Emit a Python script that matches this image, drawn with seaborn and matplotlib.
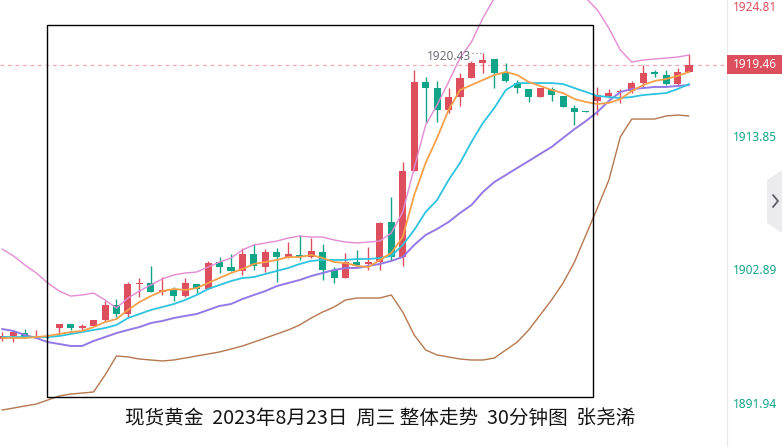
import numpy as np
import pandas as pd
import matplotlib
matplotlib.use("Agg")
import matplotlib.pyplot as plt
import seaborn as sns
from matplotlib.patches import Rectangle, Polygon
from matplotlib.lines import Line2D

# ---------------- data (30-minute candles, gold spot) ----------------
opens = [1897.00, 1897.25, 1897.49, 1897.12, 1897.21, 1897.90, 1898.23, 1897.94, 1898.07, 1898.56,
         1899.79, 1899.05, 1901.51, 1901.59, 1900.85, 1901.02, 1900.53, 1901.51, 1901.10, 1903.31,
         1902.90, 1902.58, 1903.97, 1902.90, 1904.13, 1903.72, 1903.89, 1903.72, 1904.13, 1902.66,
         1902.00, 1903.31, 1903.15, 1903.31, 1906.59, 1903.72, 1910.77, 1918.07, 1917.57, 1915.77,
         1916.84, 1918.39, 1919.62, 1919.95, 1918.80, 1917.98, 1917.49, 1916.84, 1917.49, 1916.92,
         1915.94, 1915.65, 1916.51, 1916.92, 1917.21, 1917.33, 1917.98, 1918.85, 1918.64, 1917.90,
         1918.89]
highs = [1897.57, 1897.74, 1897.82, 1897.74, 1897.41, 1898.23, 1898.23, 1898.23, 1898.56, 1900.12,
         1900.28, 1901.67, 1902.00, 1902.99, 1902.08, 1901.26, 1902.00, 1901.51, 1903.40, 1903.72,
         1903.97, 1904.46, 1904.79, 1904.38, 1904.46, 1904.95, 1905.53, 1905.28, 1904.79, 1902.90,
         1904.05, 1904.30, 1904.54, 1906.59, 1908.64, 1911.51, 1919.05, 1918.48, 1918.15, 1917.57,
         1918.80, 1919.79, 1920.43, 1919.95, 1919.62, 1918.23, 1917.49, 1917.57, 1917.66, 1916.92,
         1916.18, 1915.65, 1917.66, 1917.49, 1917.49, 1918.15, 1919.46, 1919.05, 1919.05, 1919.21,
         1920.36]
lows = [1896.84, 1896.75, 1897.08, 1897.08, 1897.08, 1897.49, 1897.74, 1897.74, 1898.07, 1898.48,
        1898.80, 1898.80, 1900.44, 1900.85, 1900.61, 1900.12, 1900.44, 1900.77, 1901.10, 1902.41,
        1902.58, 1902.25, 1902.66, 1902.49, 1901.67, 1903.64, 1903.48, 1903.64, 1901.84, 1901.59,
        1902.00, 1902.90, 1902.66, 1902.66, 1903.48, 1902.99, 1910.77, 1914.71, 1914.79, 1915.53,
        1916.10, 1918.39, 1918.80, 1917.57, 1918.07, 1917.16, 1916.43, 1916.84, 1916.51, 1916.02,
        1914.54, 1915.61, 1915.36, 1916.75, 1916.35, 1917.16, 1917.66, 1918.48, 1917.82, 1917.74,
        1918.89]
closes = [1897.25, 1897.57, 1897.16, 1897.21, 1897.18, 1898.23, 1897.90, 1898.03, 1898.56, 1899.79,
          1899.05, 1901.51, 1901.59, 1900.85, 1901.02, 1900.53, 1901.59, 1901.10, 1903.23, 1902.90,
          1902.58, 1903.97, 1902.99, 1904.13, 1903.72, 1903.97, 1903.72, 1904.21, 1902.66, 1902.00,
          1903.31, 1903.07, 1903.31, 1906.51, 1903.72, 1910.77, 1918.07, 1917.57, 1915.77, 1916.84,
          1918.39, 1919.62, 1919.87, 1918.80, 1918.15, 1917.57, 1916.84, 1917.57, 1917.00, 1916.02,
          1915.61, 1915.61, 1917.00, 1917.16, 1917.29, 1917.98, 1918.80, 1918.76, 1917.90, 1918.89,
          1919.46]

ma5 = [1897.08, 1897.08, 1897.08, 1897.16, 1897.25, 1897.41, 1897.57, 1897.66, 1897.98, 1898.39,
       1898.64, 1899.38, 1900.03, 1900.52, 1900.93, 1901.10, 1901.02, 1901.18, 1901.59, 1902.00,
       1902.41, 1902.74, 1903.15, 1903.31, 1903.48, 1903.72, 1903.72, 1903.89, 1903.64, 1903.31,
       1903.23, 1902.99, 1902.90, 1903.48, 1904.05, 1905.36, 1908.80, 1911.43, 1913.48, 1915.77,
       1917.41, 1917.82, 1918.23, 1918.64, 1918.89, 1918.64, 1918.07, 1917.74, 1917.41, 1917.16,
       1916.67, 1916.43, 1916.26, 1916.35, 1916.67, 1917.33, 1917.82, 1918.15, 1918.31, 1918.56,
       1918.89]
ma10 = [1897.16, 1897.16, 1897.16, 1897.16, 1897.16, 1897.25, 1897.41, 1897.57, 1897.74, 1897.90,
        1898.15, 1898.72, 1899.05, 1899.38, 1899.62, 1899.87, 1900.20, 1900.61, 1901.10, 1901.43,
        1901.75, 1902.00, 1902.08, 1902.33, 1902.58, 1902.82, 1903.15, 1903.40, 1903.48, 1903.48,
        1903.48, 1903.56, 1903.56, 1903.64, 1903.81, 1904.71, 1905.94, 1907.41, 1908.39, 1910.03,
        1911.43, 1913.15, 1914.71, 1915.94, 1917.41, 1917.98, 1917.98, 1917.98, 1917.98, 1917.90,
        1917.57, 1917.25, 1916.92, 1916.84, 1916.75, 1916.84, 1917.00, 1917.08, 1917.16, 1917.49,
        1917.90]
ma20 = [1897.82, 1897.66, 1897.33, 1897.08, 1896.75, 1896.59, 1896.43, 1896.43, 1896.84, 1897.16,
        1897.49, 1897.74, 1897.98, 1898.31, 1898.48, 1898.72, 1898.89, 1899.05, 1899.38, 1899.71,
        1899.87, 1900.28, 1900.61, 1900.93, 1901.34, 1901.59, 1901.84, 1902.16, 1902.41, 1902.66,
        1902.82, 1902.82, 1902.99, 1903.15, 1903.40, 1903.72, 1904.71, 1905.53, 1906.02, 1906.59,
        1907.33, 1907.98, 1909.05, 1909.87, 1910.44, 1911.02, 1911.59, 1912.17, 1912.74, 1913.48,
        1914.21, 1914.87, 1915.61, 1916.51, 1917.25, 1917.49, 1917.57, 1917.66, 1917.66, 1917.74,
        1917.82]
boll_upper = [1904.38, 1903.81, 1903.07, 1902.41, 1901.59, 1900.93, 1900.52, 1900.61, 1900.77, 1900.20,
              1899.54, 1900.36, 1900.93, 1901.43, 1901.92, 1902.25, 1902.41, 1902.49, 1902.90, 1903.31,
              1903.64, 1904.30, 1904.71, 1904.87, 1905.03, 1905.28, 1905.44, 1905.36, 1905.36, 1905.12,
              1904.95, 1904.87, 1904.95, 1905.03, 1905.69, 1907.41, 1911.02, 1914.54, 1916.18, 1918.07,
              1920.03, 1921.35, 1923.31, 1924.95, 1925.77, 1926.26, 1926.59, 1926.59, 1926.43, 1926.10,
              1925.61, 1924.95, 1923.97, 1922.49, 1920.69, 1919.70, 1919.87, 1919.95, 1920.03, 1920.11,
              1920.28]
boll_lower = [1891.18, 1891.34, 1891.51, 1891.67, 1892.00, 1892.33, 1892.49, 1892.57, 1892.66, 1894.05,
              1895.61, 1895.53, 1895.36, 1895.28, 1895.20, 1895.28, 1895.44, 1895.61, 1895.77, 1895.94,
              1896.18, 1896.43, 1896.75, 1897.08, 1897.41, 1897.74, 1898.15, 1898.72, 1899.21, 1899.62,
              1900.20, 1900.36, 1900.36, 1900.36, 1900.61, 1899.21, 1897.33, 1896.10, 1895.69, 1895.53,
              1895.36, 1895.28, 1895.28, 1895.44, 1896.10, 1896.75, 1897.74, 1898.97, 1900.20, 1901.59,
              1903.31, 1905.53, 1907.74, 1910.03, 1913.56, 1915.03, 1915.03, 1915.03, 1915.28, 1915.36,
              1915.28]

axis_labels = ["1924.81", "1913.85", "1902.89", "1891.94"]
axis_values = [1924.81, 1913.85, 1902.89, 1891.94]
last_price = 1919.46
peak_high = 1920.43
peak_index = 42
title_text = "现货黄金  2023年8月23日  周三 整体走势  30分钟图  张尧浠"

# ---------------- styling ----------------
UP = "#dd4f5c"
DOWN = "#10a489"
C_MA5 = "#f7a04b"
C_MA10 = "#2ec3df"
C_MA20 = "#9479e6"
C_UP_BAND = "#e38bd3"
C_DN_BAND = "#b5784f"

sns.set_theme(style="white")
plt.rcParams['font.family'] = ['Noto Sans CJK SC', 'DejaVu Sans']

W, H = 782, 447
fig = plt.figure(figsize=(W / 100, H / 100), dpi=100, facecolor="white")
plot_w = 727
ax = fig.add_axes([0, 0, plot_w / W, 1])
ax.set_facecolor("white")

px_per_bar = 11.45
first_px = 2.0
ax.set_xlim(-first_px / px_per_bar, (plot_w - first_px) / px_per_bar)
px_per_unit = 12.2
y_top = last_price + 65 / px_per_unit
ax.set_ylim(y_top - H / px_per_unit, y_top)

df = pd.DataFrame({"idx": np.arange(len(opens)), "open": opens, "high": highs,
                   "low": lows, "close": closes, "ma5": ma5, "ma10": ma10, "ma20": ma20,
                   "up": boll_upper, "dn": boll_lower})
colors = [UP if c >= o else DOWN for o, c in zip(df["open"], df["close"])]

# candles
ax.vlines(df["idx"], df["low"], df["high"], colors=colors, lw=1.0, zorder=2)
bottoms = np.minimum(df["open"], df["close"])
heights = np.maximum(np.abs(df["close"] - df["open"]), 0.1)
ax.bar(df["idx"], heights, bottom=bottoms, width=0.62, color=colors, linewidth=0, zorder=3)

# indicator lines
for col, colr, lw in [("up", C_UP_BAND, 1.0), ("dn", C_DN_BAND, 1.0),
                      ("ma20", C_MA20, 1.4), ("ma10", C_MA10, 1.3), ("ma5", C_MA5, 1.3)]:
    sns.lineplot(data=df, x="idx", y=col, ax=ax, color=colr, lw=lw, sort=False,
                 estimator=None, zorder=4, legend=False)

# last price dashed line
ax.axhline(last_price, color="#f2a9b2", lw=0.9, ls=(0, (3, 3)), zorder=1)

# peak annotation
ax.annotate("1920.43", xy=(peak_index, peak_high), xytext=(-12 * 0.72, -3 * 0.72),
            textcoords="offset points", ha="right", va="center", fontsize=8.5,
            color="#6f6f7c", family=["Noto Sans", "DejaVu Sans"], zorder=5)
ax.hlines(peak_high, peak_index - 0.95, peak_index, colors="#8a8a95", lw=0.9,
          linestyles=(0, (1, 2)), zorder=5)

ax.set_xticks([])
ax.set_yticks([])
ax.set_xlabel("")
ax.set_ylabel("")
for s in ["top", "left", "bottom"]:
    ax.spines[s].set_visible(False)
ax.spines["right"].set_color("#e9e9ec")
ax.spines["right"].set_linewidth(0.8)

# right axis labels
label_offsets_px = [-8, -4, -3, -4]
for lab, val, off in zip(axis_labels, axis_values, label_offsets_px):
    ax.annotate(lab, xy=(1, val), xycoords=("axes fraction", "data"),
                xytext=(6 * 0.72, off * 0.72), textcoords="offset points",
                ha="left", va="center", fontsize=8.5, annotation_clip=False,
                color=UP if val > last_price else DOWN, family=["Noto Sans", "DejaVu Sans"])

# last price tag
fig.add_artist(Rectangle((plot_w / W, 1 - 74 / H), (W - plot_w) / W, 19 / H,
                         transform=fig.transFigure, facecolor=UP, edgecolor="none"))
fig.text((plot_w + 28) / W, 1 - 65 / H, f"{last_price:.2f}", ha="center", va="center",
         fontsize=8.5, color="white", family=["Noto Sans", "DejaVu Sans"])

# framing rectangle
fig.add_artist(Rectangle((47 / W, 1 - 397 / H), (593 - 47) / W, (397 - 25) / H,
                         transform=fig.transFigure, fill=False, edgecolor="black", lw=1.0))

# side tab
tab = [(782, 170), (767, 180), (767, 223), (782, 233)]
fig.add_artist(Polygon([(x / W, 1 - y / H) for x, y in tab], closed=True,
                       transform=fig.transFigure, facecolor="#ececf0", edgecolor="none"))
chev = [(773, 195), (778, 201), (773, 207)]
fig.add_artist(Line2D([x / W for x, y in chev], [1 - y / H for x, y in chev],
                      transform=fig.transFigure, color="#5f5f6a", lw=1.3))

# title
fig.text(380 / W, 1 - 418 / H, title_text, ha="center", va="center", fontsize=14.1,
         color="#151515")

fig.savefig("out.png", dpi=100, facecolor="white")
